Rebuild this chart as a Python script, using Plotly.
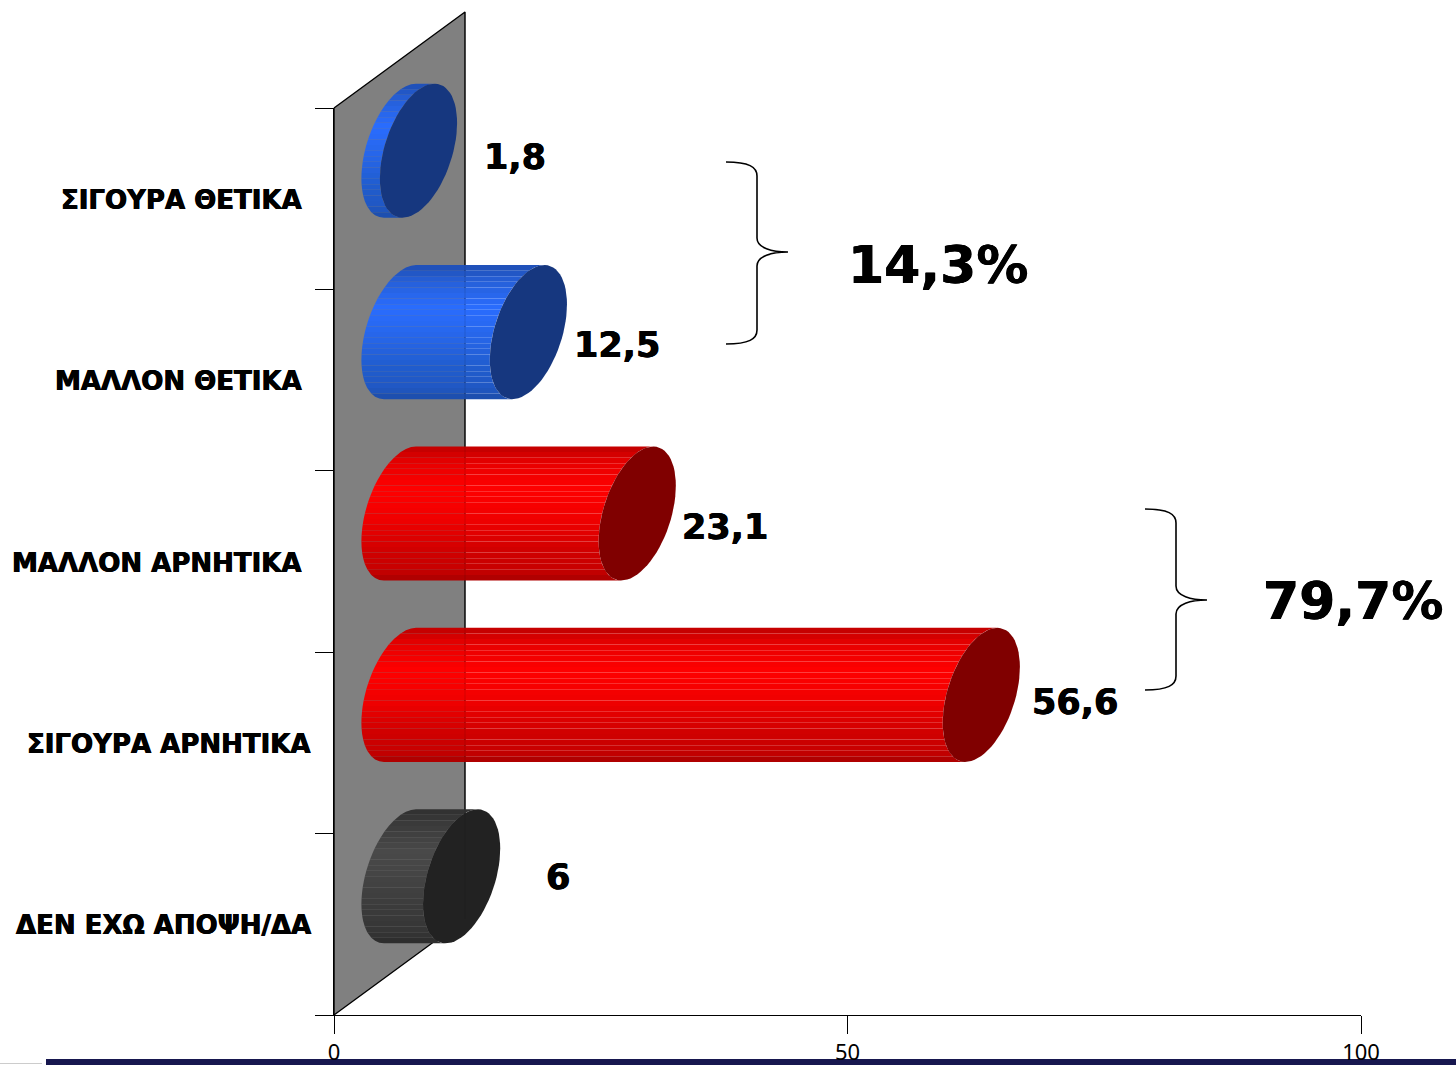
import numpy as np
import plotly.graph_objects as go

categories = ["ΣΙΓΟΥΡΑ ΘΕΤΙΚΑ", "ΜΑΛΛΟΝ ΘΕΤΙΚΑ", "ΜΑΛΛΟΝ ΑΡΝΗΤΙΚΑ", "ΣΙΓΟΥΡΑ ΑΡΝΗΤΙΚΑ", "ΔΕΝ ΕΧΩ ΑΠΟΨΗ/ΔΑ"]
values = [1.8, 12.5, 23.1, 56.6, 6]
value_labels = ["1,8", "12,5", "23,1", "56,6", "6"]
x_ticks = [0, 50, 100]
group_labels = ["14,3%", "79,7%"]

W, H = 1456, 1065
L, R, T, B = 334, 1361, 108, 1015
UX = (R - L) / 100.0
UY = (B - T) / 5.0


def dx(p):
    return (p - L) / UX


def dy(p):
    return (p - T) / UY - 0.5


# 3D oblique projection, in pixels
DEPTH = (66.0, -48.0)
WALL = (131.0, -96.0)
CAP_DX, CAP_DY, CAP_RY = 38.6, -27.8, 61.0
ALPHA = np.arctan2(CAP_RY, CAP_DY)
N_STRIPS = 24

BLUE = [(0.0, "#1f4fb4"), (0.12, "#2660d8"), (0.32, "#2a6dff"), (0.55, "#2766e8"), (0.78, "#205ccc"), (0.92, "#2058c4"), (1.0, "#1c4ca8")]
RED = [(0.0, "#c00000"), (0.12, "#e80000"), (0.32, "#ff0000"), (0.55, "#f00000"), (0.78, "#d00000"), (0.92, "#c80000"), (1.0, "#a80000")]
DARK = [(0.0, "#303030"), (0.12, "#3c3c3c"), (0.32, "#4a4a4a"), (0.55, "#434343"), (0.78, "#3a3a3a"), (0.92, "#363636"), (1.0, "#2c2c2c")]
body_colors = [BLUE, BLUE, RED, RED, DARK]
cap_colors = ["#16377f", "#16377f", "#800000", "#800000", "#222222"]

label_right = [304, 304, 304, 313, 313]
value_label_px = [(515, 157), (617, 345), (725, 527), (1075, 702), (558, 877)]
group_label_px = [(938, 265), (1353, 601)]
brace_px = [(726, 757, 788, 162, 252, 344), (1145, 1176, 1207, 509, 600, 690)]


def hex2rgb(h):
    return np.array([int(h[i:i + 2], 16) for i in (1, 3, 5)], dtype=float)


def shade(anchors, f):
    for (f0, c0), (f1, c1) in zip(anchors, anchors[1:]):
        if f <= f1:
            w = (f - f0) / (f1 - f0)
            c = hex2rgb(c0) * (1 - w) + hex2rgb(c1) * w
            return "rgb(%d,%d,%d)" % tuple(c)
    return anchors[-1][1]


def ring(t, value, idx):
    x = value + (DEPTH[0] + CAP_DX * np.cos(t)) / UX
    y = idx + (DEPTH[1] + CAP_RY * np.sin(t) + CAP_DY * np.cos(t)) / UY
    return x, y


fig = go.Figure()

# real axes: invisible bars carry the values on the visible x/y axes
fig.add_trace(go.Bar(x=values, y=list(range(5)), orientation="h", opacity=0, hoverinfo="skip",
                     showlegend=False, xaxis="x", yaxis="y"))


def poly(xs, ys, color, line=None, lc="#000000"):
    fig.add_trace(go.Scatter(
        x=list(xs), y=list(ys), mode="lines", fill="toself", fillcolor=color,
        line=dict(width=line or 0, color=lc), hoverinfo="skip",
        showlegend=False, xaxis="x2", yaxis="y2"))


# back wall
wx, wy = WALL[0] / UX, WALL[1] / UY
poly([0, wx, wx, 0, 0], [-0.5, -0.5 + wy, 4.5 + wy, 4.5, -0.5], "#808080", 1.4)

# cylinders
for i, v in enumerate(values):
    u = np.linspace(-1, 1, N_STRIPS + 1)
    t = ALPHA + np.arccos(u)
    for k in range(N_STRIPS):
        arc = np.linspace(t[k], t[k + 1], 4)
        x0, y0 = ring(arc, 0, i)
        x1, y1 = ring(arc[::-1], v, i)
        col = shade(body_colors[i], (k + 0.5) / N_STRIPS)
        poly(np.r_[x0, x1, x0[0]], np.r_[y0, y1, y0[0]], col)
    tc = np.linspace(0, 2 * np.pi, 73)
    xc, yc = ring(tc, v, i)
    poly(xc, yc, cap_colors[i])

# wall edge faintly showing through the bars
fig.add_trace(go.Scatter(x=[wx, wx], y=[-0.5 + wy, 4.5 + wy], mode="lines",
                         line=dict(width=1, color="rgba(0,0,0,0.12)"), hoverinfo="skip",
                         showlegend=False, xaxis="x2", yaxis="y2"))

HEAVY = "0.4px 0 0 #000, -0.4px 0 0 #000"
annotations = []
for i, c in enumerate(categories):
    annotations.append(dict(x=dx(label_right[i]), y=dy(T + UY * (i + 0.5) + 1), xref="x2", yref="y2", text=c,
                            showarrow=False, xanchor="right", yanchor="middle",
                            font=dict(family="DejaVu Sans", size=26, color="#000000", weight="bold", shadow=HEAVY)))
for (px, py), t in zip(value_label_px, value_labels):
    annotations.append(dict(x=dx(px), y=dy(py), xref="x2", yref="y2", text=t, showarrow=False,
                            xanchor="center", yanchor="middle",
                            font=dict(family="DejaVu Sans", size=35, color="#000000", weight="bold", shadow=HEAVY)))
for (px, py), t in zip(group_label_px, group_labels):
    annotations.append(dict(x=dx(px), y=dy(py), xref="x2", yref="y2", text=t, showarrow=False,
                            xanchor="center", yanchor="middle",
                            font=dict(family="DejaVu Sans", size=52, color="#000000", weight="bold", shadow=HEAVY)))

shapes = []


def P(a, b):
    return "%.4f,%.4f" % (dx(a), dy(b))


for x0, xm, xt, y0, ym, y1 in brace_px:
    r = 14
    path = ("M" + P(x0, y0) + " C" + P(xm - 8, y0) + " " + P(xm, y0 + 5) + " " + P(xm, y0 + r)
            + " L" + P(xm, ym - r) + " C" + P(xm, ym - 4) + " " + P(xt - 16, ym) + " " + P(xt, ym)
            + " C" + P(xt - 16, ym) + " " + P(xm, ym + 4) + " " + P(xm, ym + r)
            + " L" + P(xm, y1 - r) + " C" + P(xm, y1 - 5) + " " + P(xm - 8, y1) + " " + P(x0, y1))
    shapes.append(dict(type="path", path=path, xref="x2", yref="y2", line=dict(color="#000000", width=1.6), layer="above"))

# footer band of the slide (paper spans the whole page: margins are zero)
shapes.append(dict(type="rect", xref="paper", yref="paper", x0=46 / W, x1=1, y0=0, y1=6 / H,
                   fillcolor="#17174f", line=dict(width=0), layer="below"))
shapes.append(dict(type="line", xref="paper", yref="paper", x0=0, x1=42 / W, y0=1.5 / H, y1=1.5 / H,
                   line=dict(color="#cccccc", width=1), layer="below"))

fig.update_layout(
    template=None, width=W, height=H, autosize=False,
    margin=dict(l=0, r=0, t=0, b=0, pad=0),
    paper_bgcolor="#ffffff", plot_bgcolor="rgba(0,0,0,0)",
    annotations=annotations, shapes=shapes, showlegend=False,
    xaxis=dict(domain=[L / W, R / W], anchor="y", range=[0, 100], tickvals=x_ticks, ticks="outside",
               ticklen=18, tickwidth=1, tickcolor="#000000", automargin=False,
               showline=True, linecolor="#000000", linewidth=1, showgrid=False, zeroline=False,
               tickfont=dict(family="Noto Sans", size=22, color="#000000")),
    yaxis=dict(domain=[(H - B) / H, (H - T) / H], anchor="x", range=[4.5, -0.5],
               tickvals=[-0.5, 0.5, 1.5, 2.5, 3.5, 4.5], ticktext=[""] * 6,
               ticks="outside", ticklen=18, tickwidth=1, tickcolor="#000000", automargin=False,
               showline=True, linecolor="#000000", linewidth=1, showgrid=False, zeroline=False),
    xaxis2=dict(domain=[0, 1], anchor="y2", range=[dx(0), dx(W)], visible=False, automargin=False),
    yaxis2=dict(domain=[0, 1], anchor="x2", range=[dy(H), dy(0)], visible=False, automargin=False),
)

fig.write_html("out.html", config={"displayModeBar": False},
               post_script="document.body.style.margin='0';document.body.style.overflow='hidden';")
